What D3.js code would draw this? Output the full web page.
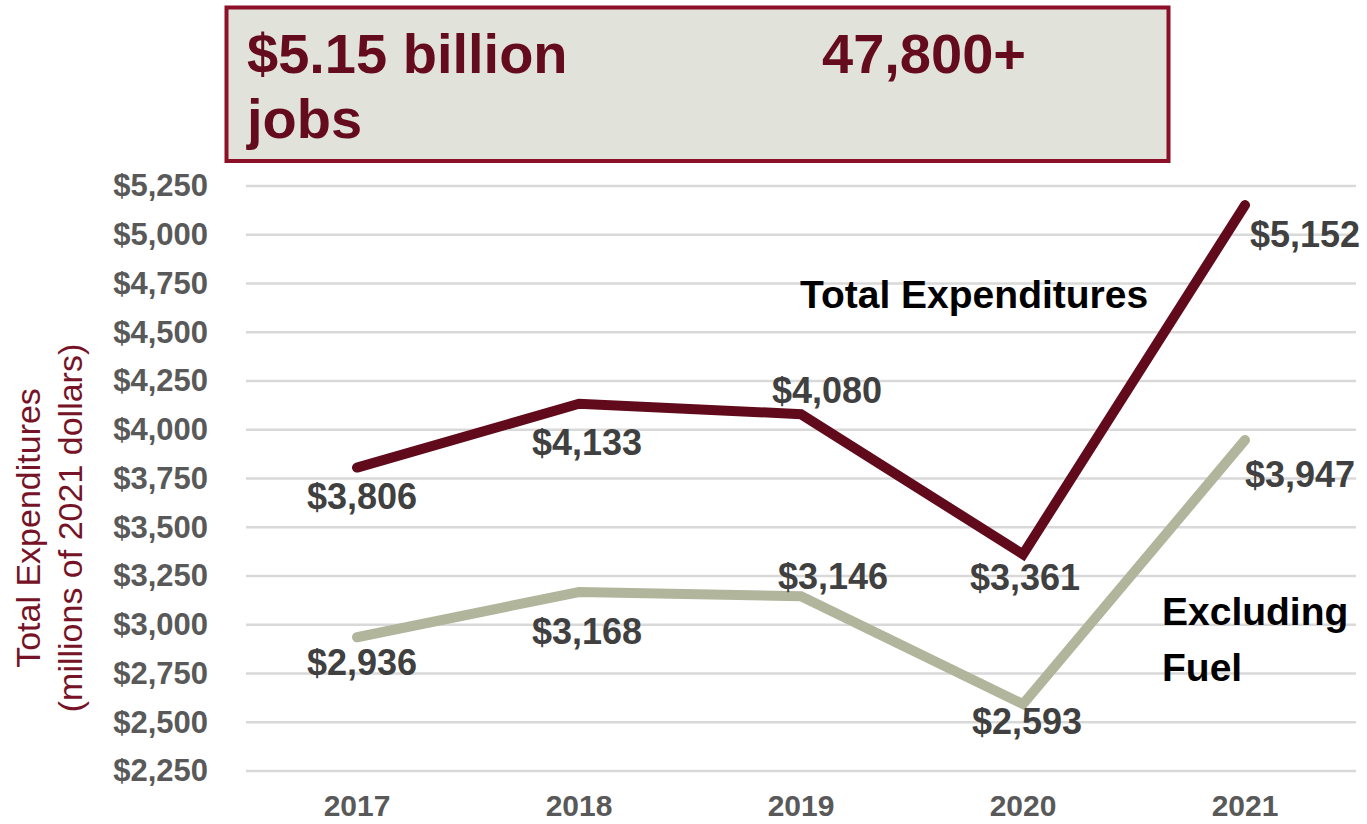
<!DOCTYPE html>
<html>
<head>
<meta charset="utf-8">
<script src="https://cdn.jsdelivr.net/npm/d3@7"></script>
<style>
  html, body { margin: 0; padding: 0; background: #ffffff; }
  svg { display: block; font-family: "Liberation Sans", Arial, sans-serif; }
</style>
</head>
<body>
<svg id="chart" width="1367" height="824"></svg>
<script>
// Years and series (millions of 2021 dollars)
const years = ["2017", "2018", "2019", "2020", "2021"];
const totalExpenditures = [3806, 4133, 4080, 3361, 5152];
const excludingFuel = [2936, 3168, 3146, 2593, 3947];
const yTicks = [2250, 2500, 2750, 3000, 3250, 3500, 3750, 4000, 4250, 4500, 4750, 5000, 5250];

// Headline box text
const headlineLine1Left = "$5.15 billion";
const headlineLine1Right = "47,800+";
const headlineLine2 = "jobs";

// Axis title lines
const yTitleLines = ["Total Expenditures", "(millions of 2021 dollars)"];

// Series names as drawn beside the lines
const totalName = ["Total Expenditures"];
const fuelName = ["Excluding", "Fuel"];

const svg = d3.select("#chart");

const plot = { left: 246, right: 1356, top: 186, bottom: 771 };

const x = d3.scaleBand().domain(years).range([plot.left, plot.right]).padding(0);
const y = d3.scaleLinear().domain([2250, 5250]).range([plot.bottom, plot.top]);
const cx = d => x(d) + x.bandwidth() / 2;

// Gridlines
svg.append("g")
  .selectAll("line")
  .data(yTicks)
  .join("line")
  .attr("x1", plot.left).attr("x2", plot.right)
  .attr("y1", d => y(d)).attr("y2", d => y(d))
  .attr("stroke", "#d9d9d9").attr("stroke-width", 2.5);

// Y axis tick labels
const yAxis = d3.axisLeft(y)
  .tickValues(yTicks)
  .tickSize(0)
  .tickPadding(0)
  .tickFormat(d => "$" + d3.format(",")(d));
const gy = svg.append("g").attr("transform", "translate(208,0)").call(yAxis);
gy.select(".domain").remove();
gy.selectAll("text")
  .attr("fill", "#595959")
  .attr("font-size", 31)
  .attr("font-weight", "bold")
  .attr("font-family", "'Liberation Sans', Arial, sans-serif");

// X axis labels
const xAxis = d3.axisBottom(x).tickSize(0).tickPadding(0);
const gx = svg.append("g").attr("transform", "translate(0,795)").call(xAxis);
gx.select(".domain").remove();
gx.selectAll("text")
  .attr("dy", "0.71em")
  .attr("fill", "#595959")
  .attr("font-size", 30)
  .attr("font-weight", "bold")
  .attr("font-family", "'Liberation Sans', Arial, sans-serif");

// Y axis title
const yTitle = svg.append("text")
  .attr("transform", "translate(0,528) rotate(-90)")
  .attr("text-anchor", "middle")
  .attr("fill", "#761327")
  .attr("font-size", 34);
yTitle.selectAll("tspan")
  .data(yTitleLines)
  .join("tspan")
  .attr("x", 0)
  .attr("y", (d, i) => 40 + i * 42)
  .text(d => d);

// Lines
const line = d3.line()
  .x((d, i) => cx(years[i]))
  .y(d => y(d));

svg.append("path")
  .datum(excludingFuel)
  .attr("d", line)
  .attr("fill", "none")
  .attr("stroke", "#b1b59c")
  .attr("stroke-width", 10)
  .attr("stroke-linecap", "round")
  .attr("stroke-linejoin", "miter");

svg.append("path")
  .datum(totalExpenditures)
  .attr("d", line)
  .attr("fill", "none")
  .attr("stroke", "#600a1b")
  .attr("stroke-width", 10)
  .attr("stroke-linecap", "round")
  .attr("stroke-linejoin", "miter");

// Data labels: offset of each label's baseline from its point
const totalLabelOffsets = [[5, 41, "middle"], [8, 51, "middle"], [26, -11, "middle"], [2, 36, "middle"], [5, 42, "start"]];
const fuelLabelOffsets = [[5, 38, "middle"], [8, 52, "middle"], [32, -7, "middle"], [4, 30, "middle"], [0, 47, "start"]];

function drawLabels(values, offsets) {
  svg.append("g")
    .selectAll("text")
    .data(values)
    .join("text")
    .attr("x", (d, i) => cx(years[i]) + offsets[i][0])
    .attr("y", (d, i) => y(d) + offsets[i][1])
    .attr("text-anchor", (d, i) => offsets[i][2])
    .attr("fill", "#404040")
    .attr("font-size", 36)
    .attr("font-weight", "bold")
    .text(d => "$" + d3.format(",")(d));
}
drawLabels(totalExpenditures, totalLabelOffsets);
drawLabels(excludingFuel, fuelLabelOffsets);

// Series names
svg.append("text")
  .attr("x", 800).attr("y", 308)
  .attr("fill", "#000000")
  .attr("font-size", 39)
  .attr("font-weight", "bold")
  .text(totalName[0]);

const fuelText = svg.append("text")
  .attr("fill", "#000000")
  .attr("font-size", 39)
  .attr("font-weight", "bold");
fuelText.selectAll("tspan")
  .data(fuelName)
  .join("tspan")
  .attr("x", 1162)
  .attr("y", (d, i) => 625 + i * 56)
  .text(d => d);

// Headline box
svg.append("rect")
  .attr("x", 226.5).attr("y", 7.5)
  .attr("width", 942).attr("height", 153.5)
  .attr("fill", "#e1e2da")
  .attr("stroke", "#8c1028")
  .attr("stroke-width", 4);

const headline = svg.append("g")
  .attr("fill", "#640b1e")
  .attr("font-size", 56)
  .attr("font-weight", "bold");
headline.append("text").attr("x", 247).attr("y", 73).text(headlineLine1Left);
headline.append("text").attr("x", 822).attr("y", 73).text(headlineLine1Right);
headline.append("text").attr("x", 247).attr("y", 138).text(headlineLine2);
</script>
</body>
</html>
